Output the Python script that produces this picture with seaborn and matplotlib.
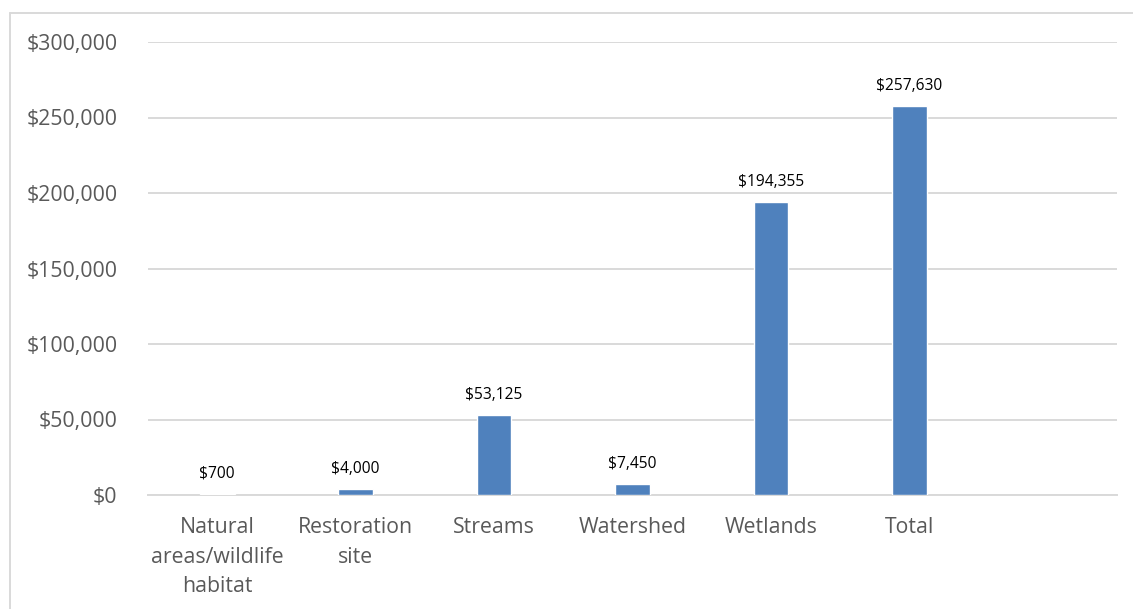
import matplotlib
matplotlib.use("Agg")
import matplotlib.pyplot as plt
import seaborn as sns
import pandas as pd
from matplotlib.lines import Line2D
from matplotlib.ticker import FuncFormatter, MultipleLocator

categories = ["Natural\nareas/wildlife\nhabitat", "Restoration\nsite", "Streams",
              "Watershed", "Wetlands", "Total"]
values = [700, 4000, 53125, 7450, 194355, 257630]

sns.set_theme(style="white")
plt.rcParams['font.family'] = ['Open Sans', 'DejaVu Sans']

df = pd.DataFrame({"cat": categories, "val": values})

fig = plt.figure(figsize=(11.33, 6.09), dpi=100)
ax = fig.add_axes([148/1133, 114/609, (1117-148)/1133, 453/609])

sns.barplot(data=df, x="cat", y="val", color="#4F81BD", width=0.25,
            saturation=1, ax=ax, order=categories, zorder=3)

ax.set_xlim(-0.5, 6.5)
ax.set_ylim(0, 300000)
ax.yaxis.set_major_locator(MultipleLocator(50000))
ax.yaxis.set_major_formatter(FuncFormatter(lambda v, p: f"${v:,.0f}"))
ax.grid(axis="y", color="#D9D9D9", linewidth=1.4)
ax.set_axisbelow(True)
for s in ["top", "right", "left"]:
    ax.spines[s].set_visible(False)
ax.spines["bottom"].set_color("#D9D9D9")
ax.spines["bottom"].set_linewidth(1.4)
ax.spines["bottom"].set_zorder(1)
ax.set_xlabel("")
ax.set_ylabel("")
ax.tick_params(axis="y", length=0, pad=22, labelsize=15.3, labelcolor="#595959")
ax.tick_params(axis="x", length=0, pad=16, labelsize=15.3, labelcolor="#595959")
for t in ax.get_xticklabels():
    t.set_linespacing(1.52)

for i, v in enumerate(values):
    ax.annotate(f"${v:,.0f}", xy=(i, v), xytext=(0, 11.5), textcoords="offset points",
                ha="center", va="baseline", fontsize=11.2, color="#000000")

fig.add_artist(Line2D([10.5/1133, 1], [1 - 12.5/609, 1 - 12.5/609],
                      transform=fig.transFigure, color="#D9D9D9", linewidth=1.4))
fig.add_artist(Line2D([10.5/1133, 10.5/1133], [0, 1 - 12.5/609],
                      transform=fig.transFigure, color="#D9D9D9", linewidth=1.4))

fig.savefig("out.png", dpi=100)
